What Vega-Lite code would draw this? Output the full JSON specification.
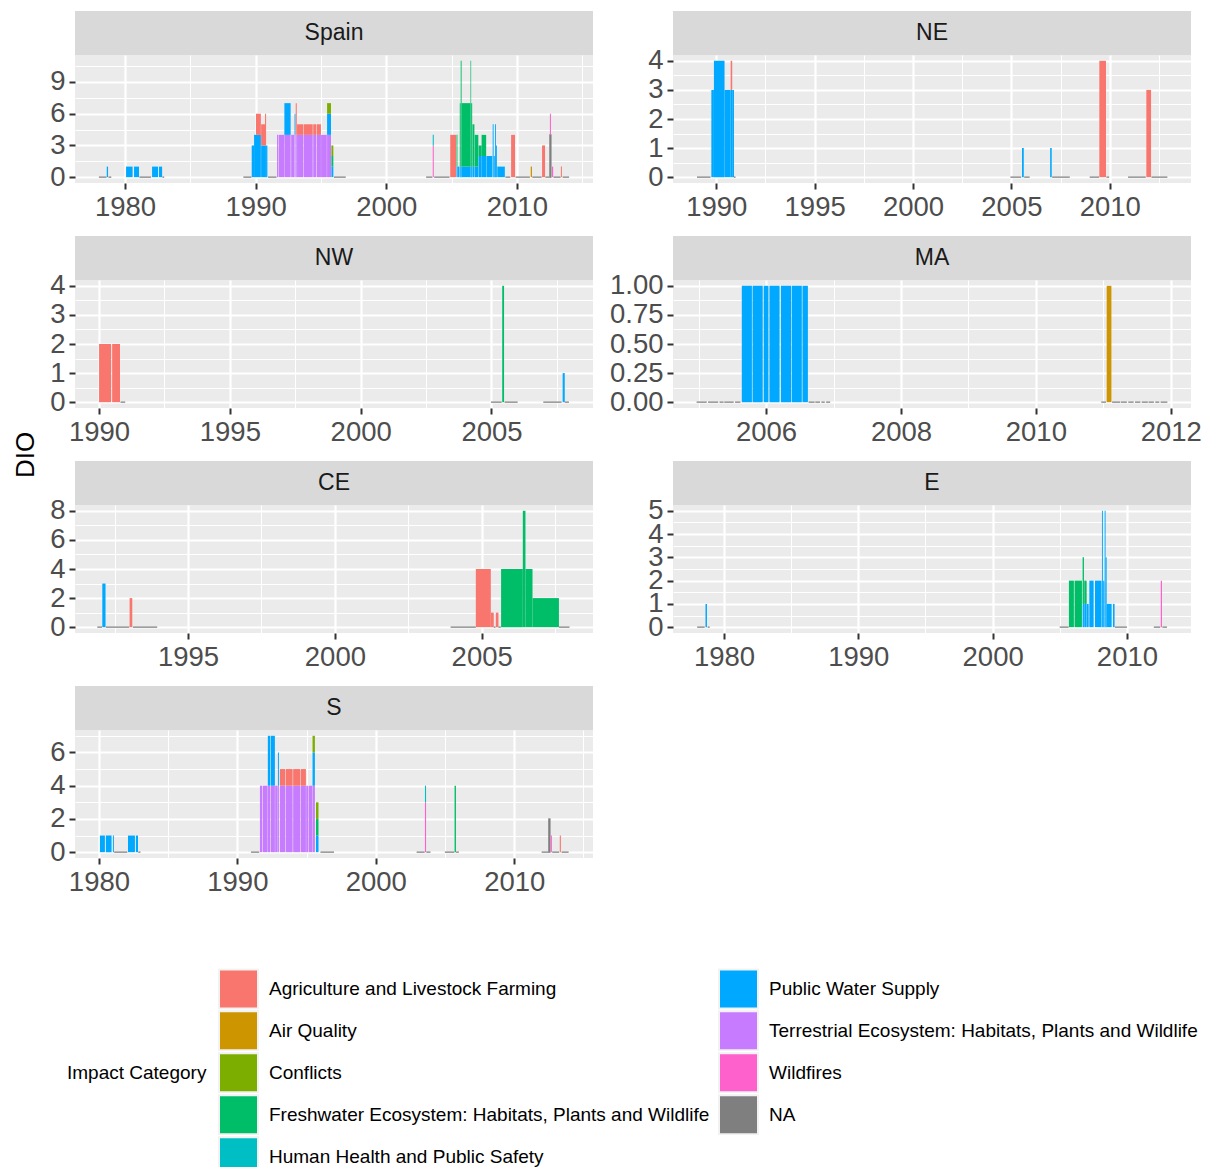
{
  "$schema": "https://vega.github.io/schema/vega-lite/v6.json",
  "padding": {"left": 11, "top": 11, "right": 5, "bottom": 5},
  "background": "white",
  "datasets": {
    "lv": [
      {"c": "A", "name": "Agriculture and Livestock Farming", "k": 1},
      {"c": "Q", "name": "Air Quality", "k": 2},
      {"c": "C", "name": "Conflicts", "k": 3},
      {"c": "F", "name": "Freshwater Ecosystem: Habitats, Plants and Wildlife", "k": 4},
      {"c": "H", "name": "Human Health and Public Safety", "k": 5},
      {"c": "P", "name": "Public Water Supply", "k": 6},
      {"c": "T", "name": "Terrestrial Ecosystem: Habitats, Plants and Wildlife", "k": 7},
      {"c": "W", "name": "Wildfires", "k": 8},
      {"c": "N", "name": "NA", "k": 9}
    ],
    "d": [
      {"r": "Spain", "s": 1978.0, "e": 1978.58, "v": 0, "c": "N"},
      {"r": "Spain", "s": 1978.6, "e": 1978.7, "v": 1, "c": "P"},
      {"r": "Spain", "s": 1978.73, "e": 1978.95, "v": 0, "c": "N"},
      {"r": "Spain", "s": 1980.08, "e": 1980.58, "v": 1, "c": "P"},
      {"r": "Spain", "s": 1980.69, "e": 1981.07, "v": 1, "c": "P"},
      {"r": "Spain", "s": 1981.1, "e": 1982.0, "v": 0, "c": "N"},
      {"r": "Spain", "s": 1982.07, "e": 1982.53, "v": 1, "c": "P"},
      {"r": "Spain", "s": 1982.6, "e": 1982.84, "v": 1, "c": "P"},
      {"r": "Spain", "s": 1982.86, "e": 1983.0, "v": 0, "c": "N"},
      {"r": "Spain", "s": 1989.06, "e": 1989.68, "v": 0, "c": "N"},
      {"r": "Spain", "s": 1989.7, "e": 1989.88, "v": 3, "c": "P"},
      {"r": "Spain", "s": 1989.88, "e": 1990.03, "v": 4, "c": "P"},
      {"r": "Spain", "s": 1990.03, "e": 1990.4, "v": 4, "c": "P"},
      {"r": "Spain", "s": 1990.03, "e": 1990.4, "v": 2, "c": "A"},
      {"r": "Spain", "s": 1990.42, "e": 1990.72, "v": 3, "c": "P"},
      {"r": "Spain", "s": 1990.42, "e": 1990.72, "v": 2, "c": "A"},
      {"r": "Spain", "s": 1990.72, "e": 1990.8, "v": 3, "c": "P"},
      {"r": "Spain", "s": 1990.72, "e": 1990.8, "v": 3, "c": "A"},
      {"r": "Spain", "s": 1990.8, "e": 1990.9, "v": 3, "c": "P"},
      {"r": "Spain", "s": 1990.95, "e": 1991.6, "v": 0, "c": "N"},
      {"r": "Spain", "s": 1991.64, "e": 1991.74, "v": 4, "c": "T"},
      {"r": "Spain", "s": 1991.78, "e": 1992.18, "v": 4, "c": "T"},
      {"r": "Spain", "s": 1992.2, "e": 1992.68, "v": 4, "c": "T"},
      {"r": "Spain", "s": 1992.2, "e": 1992.68, "v": 3, "c": "P"},
      {"r": "Spain", "s": 1992.72, "e": 1992.96, "v": 4, "c": "T"},
      {"r": "Spain", "s": 1992.98, "e": 1993.05, "v": 4, "c": "T"},
      {"r": "Spain", "s": 1992.98, "e": 1993.05, "v": 2, "c": "P"},
      {"r": "Spain", "s": 1993.07, "e": 1993.15, "v": 4, "c": "T"},
      {"r": "Spain", "s": 1993.07, "e": 1993.15, "v": 3, "c": "A"},
      {"r": "Spain", "s": 1993.17, "e": 1993.63, "v": 4, "c": "T"},
      {"r": "Spain", "s": 1993.17, "e": 1993.63, "v": 1, "c": "A"},
      {"r": "Spain", "s": 1993.67, "e": 1994.37, "v": 4, "c": "T"},
      {"r": "Spain", "s": 1993.67, "e": 1994.37, "v": 1, "c": "A"},
      {"r": "Spain", "s": 1994.41, "e": 1994.64, "v": 4, "c": "T"},
      {"r": "Spain", "s": 1994.41, "e": 1994.64, "v": 1, "c": "A"},
      {"r": "Spain", "s": 1994.68, "e": 1995.0, "v": 4, "c": "T"},
      {"r": "Spain", "s": 1994.68, "e": 1995.0, "v": 1, "c": "A"},
      {"r": "Spain", "s": 1995.01, "e": 1995.45, "v": 4, "c": "T"},
      {"r": "Spain", "s": 1995.47, "e": 1995.77, "v": 4, "c": "T"},
      {"r": "Spain", "s": 1995.47, "e": 1995.77, "v": 2, "c": "P"},
      {"r": "Spain", "s": 1995.47, "e": 1995.77, "v": 1, "c": "C"},
      {"r": "Spain", "s": 1995.8, "e": 1995.95, "v": 1, "c": "P"},
      {"r": "Spain", "s": 1995.8, "e": 1995.95, "v": 1, "c": "F"},
      {"r": "Spain", "s": 1995.8, "e": 1995.95, "v": 1, "c": "C"},
      {"r": "Spain", "s": 1996.0, "e": 1996.9, "v": 0, "c": "N"},
      {"r": "Spain", "s": 2003.05, "e": 2003.53, "v": 0, "c": "N"},
      {"r": "Spain", "s": 2003.56, "e": 2003.64, "v": 3, "c": "W"},
      {"r": "Spain", "s": 2003.56, "e": 2003.64, "v": 1, "c": "H"},
      {"r": "Spain", "s": 2003.67, "e": 2004.85, "v": 0, "c": "N"},
      {"r": "Spain", "s": 2004.9, "e": 2005.35, "v": 4, "c": "A"},
      {"r": "Spain", "s": 2005.38, "e": 2005.45, "v": 1, "c": "P"},
      {"r": "Spain", "s": 2005.38, "e": 2005.45, "v": 3, "c": "F"},
      {"r": "Spain", "s": 2005.45, "e": 2005.6, "v": 1, "c": "P"},
      {"r": "Spain", "s": 2005.63, "e": 2005.7, "v": 1, "c": "P"},
      {"r": "Spain", "s": 2005.63, "e": 2005.7, "v": 6, "c": "F"},
      {"r": "Spain", "s": 2005.7, "e": 2005.77, "v": 1, "c": "P"},
      {"r": "Spain", "s": 2005.7, "e": 2005.77, "v": 10, "c": "F"},
      {"r": "Spain", "s": 2005.77, "e": 2006.45, "v": 1, "c": "P"},
      {"r": "Spain", "s": 2005.77, "e": 2006.45, "v": 6, "c": "F"},
      {"r": "Spain", "s": 2006.45, "e": 2006.5, "v": 1, "c": "P"},
      {"r": "Spain", "s": 2006.45, "e": 2006.5, "v": 10, "c": "F"},
      {"r": "Spain", "s": 2006.5, "e": 2006.58, "v": 1, "c": "P"},
      {"r": "Spain", "s": 2006.5, "e": 2006.58, "v": 6, "c": "F"},
      {"r": "Spain", "s": 2006.6, "e": 2006.75, "v": 1, "c": "P"},
      {"r": "Spain", "s": 2006.6, "e": 2006.75, "v": 4, "c": "F"},
      {"r": "Spain", "s": 2006.77, "e": 2007.05, "v": 1, "c": "P"},
      {"r": "Spain", "s": 2006.77, "e": 2007.05, "v": 3, "c": "F"},
      {"r": "Spain", "s": 2007.07, "e": 2007.3, "v": 2, "c": "P"},
      {"r": "Spain", "s": 2007.07, "e": 2007.3, "v": 1, "c": "F"},
      {"r": "Spain", "s": 2007.3, "e": 2007.65, "v": 2, "c": "P"},
      {"r": "Spain", "s": 2007.3, "e": 2007.65, "v": 2, "c": "F"},
      {"r": "Spain", "s": 2007.67, "e": 2008.12, "v": 2, "c": "P"},
      {"r": "Spain", "s": 2008.15, "e": 2008.22, "v": 5, "c": "P"},
      {"r": "Spain", "s": 2008.22, "e": 2008.31, "v": 2, "c": "P"},
      {"r": "Spain", "s": 2008.33, "e": 2008.4, "v": 5, "c": "P"},
      {"r": "Spain", "s": 2008.4, "e": 2008.47, "v": 3, "c": "P"},
      {"r": "Spain", "s": 2008.5, "e": 2009.08, "v": 1, "c": "P"},
      {"r": "Spain", "s": 2009.12, "e": 2009.5, "v": 0, "c": "N"},
      {"r": "Spain", "s": 2009.56, "e": 2009.86, "v": 4, "c": "A"},
      {"r": "Spain", "s": 2009.9, "e": 2011.0, "v": 0, "c": "N"},
      {"r": "Spain", "s": 2011.06, "e": 2011.16, "v": 1, "c": "Q"},
      {"r": "Spain", "s": 2011.18, "e": 2011.9, "v": 0, "c": "N"},
      {"r": "Spain", "s": 2011.93, "e": 2012.16, "v": 3, "c": "A"},
      {"r": "Spain", "s": 2012.18, "e": 2012.5, "v": 0, "c": "N"},
      {"r": "Spain", "s": 2012.53, "e": 2012.61, "v": 4, "c": "N"},
      {"r": "Spain", "s": 2012.53, "e": 2012.61, "v": 2, "c": "W"},
      {"r": "Spain", "s": 2012.69, "e": 2012.78, "v": 1, "c": "W"},
      {"r": "Spain", "s": 2012.8, "e": 2013.35, "v": 0, "c": "N"},
      {"r": "Spain", "s": 2013.37, "e": 2013.45, "v": 1, "c": "A"},
      {"r": "Spain", "s": 2013.5, "e": 2014.0, "v": 0, "c": "N"},

      {"r": "NE", "s": 1989.02, "e": 1989.71, "v": 0, "c": "N"},
      {"r": "NE", "s": 1989.75, "e": 1989.88, "v": 3, "c": "P"},
      {"r": "NE", "s": 1989.88, "e": 1990.42, "v": 4, "c": "P"},
      {"r": "NE", "s": 1990.42, "e": 1990.73, "v": 3, "c": "P"},
      {"r": "NE", "s": 1990.73, "e": 1990.81, "v": 3, "c": "P"},
      {"r": "NE", "s": 1990.73, "e": 1990.81, "v": 1, "c": "A"},
      {"r": "NE", "s": 1990.81, "e": 1990.9, "v": 3, "c": "P"},
      {"r": "NE", "s": 1990.9, "e": 1990.98, "v": 0, "c": "N"},
      {"r": "NE", "s": 2004.95, "e": 2005.5, "v": 0, "c": "N"},
      {"r": "NE", "s": 2005.54, "e": 2005.63, "v": 1, "c": "P"},
      {"r": "NE", "s": 2005.65, "e": 2005.93, "v": 0, "c": "N"},
      {"r": "NE", "s": 2006.97, "e": 2007.05, "v": 1, "c": "P"},
      {"r": "NE", "s": 2007.07, "e": 2007.97, "v": 0, "c": "N"},
      {"r": "NE", "s": 2008.98, "e": 2009.46, "v": 0, "c": "N"},
      {"r": "NE", "s": 2009.47, "e": 2009.81, "v": 4, "c": "A"},
      {"r": "NE", "s": 2009.83, "e": 2009.97, "v": 0, "c": "N"},
      {"r": "NE", "s": 2010.93, "e": 2011.83, "v": 0, "c": "N"},
      {"r": "NE", "s": 2011.86, "e": 2012.1, "v": 3, "c": "A"},
      {"r": "NE", "s": 2012.12, "e": 2012.93, "v": 0, "c": "N"},

      {"r": "NW", "s": 1990.0, "e": 1990.46, "v": 2, "c": "A"},
      {"r": "NW", "s": 1990.5, "e": 1990.8, "v": 2, "c": "A"},
      {"r": "NW", "s": 1990.82, "e": 1991.0, "v": 0, "c": "N"},
      {"r": "NW", "s": 2004.98, "e": 2005.39, "v": 0, "c": "N"},
      {"r": "NW", "s": 2005.41, "e": 2005.48, "v": 4, "c": "F"},
      {"r": "NW", "s": 2005.5, "e": 2006.0, "v": 0, "c": "N"},
      {"r": "NW", "s": 2006.98, "e": 2007.68, "v": 0, "c": "N"},
      {"r": "NW", "s": 2007.72, "e": 2007.8, "v": 1, "c": "P"},
      {"r": "NW", "s": 2007.8, "e": 2007.96, "v": 0, "c": "N"},

      {"r": "MA", "s": 2004.97, "e": 2005.12, "v": 0, "c": "N"},
      {"r": "MA", "s": 2005.14, "e": 2005.29, "v": 0, "c": "N"},
      {"r": "MA", "s": 2005.31, "e": 2005.37, "v": 0, "c": "N"},
      {"r": "MA", "s": 2005.38, "e": 2005.52, "v": 0, "c": "N"},
      {"r": "MA", "s": 2005.54, "e": 2005.62, "v": 0, "c": "N"},
      {"r": "MA", "s": 2005.64, "e": 2005.79, "v": 1, "c": "P"},
      {"r": "MA", "s": 2005.8, "e": 2005.95, "v": 1, "c": "P"},
      {"r": "MA", "s": 2005.965, "e": 2006.035, "v": 1, "c": "P"},
      {"r": "MA", "s": 2006.05, "e": 2006.2, "v": 1, "c": "P"},
      {"r": "MA", "s": 2006.22, "e": 2006.37, "v": 1, "c": "P"},
      {"r": "MA", "s": 2006.38, "e": 2006.53, "v": 1, "c": "P"},
      {"r": "MA", "s": 2006.54, "e": 2006.62, "v": 1, "c": "P"},
      {"r": "MA", "s": 2006.63, "e": 2006.72, "v": 0, "c": "N"},
      {"r": "MA", "s": 2006.73, "e": 2006.8, "v": 0, "c": "N"},
      {"r": "MA", "s": 2006.82, "e": 2006.87, "v": 0, "c": "N"},
      {"r": "MA", "s": 2006.89, "e": 2006.95, "v": 0, "c": "N"},
      {"r": "MA", "s": 2010.97, "e": 2011.04, "v": 0, "c": "N"},
      {"r": "MA", "s": 2011.05, "e": 2011.12, "v": 1, "c": "Q"},
      {"r": "MA", "s": 2011.13, "e": 2011.25, "v": 0, "c": "N"},
      {"r": "MA", "s": 2011.26, "e": 2011.35, "v": 0, "c": "N"},
      {"r": "MA", "s": 2011.37, "e": 2011.45, "v": 0, "c": "N"},
      {"r": "MA", "s": 2011.47, "e": 2011.55, "v": 0, "c": "N"},
      {"r": "MA", "s": 2011.57, "e": 2011.66, "v": 0, "c": "N"},
      {"r": "MA", "s": 2011.67, "e": 2011.75, "v": 0, "c": "N"},
      {"r": "MA", "s": 2011.77, "e": 2011.83, "v": 0, "c": "N"},
      {"r": "MA", "s": 2011.85, "e": 2011.95, "v": 0, "c": "N"},

      {"r": "CE", "s": 1991.91, "e": 1992.07, "v": 0, "c": "N"},
      {"r": "CE", "s": 1992.08, "e": 1992.19, "v": 3, "c": "P"},
      {"r": "CE", "s": 1992.2, "e": 1993.0, "v": 0, "c": "N"},
      {"r": "CE", "s": 1993.01, "e": 1993.1, "v": 2, "c": "A"},
      {"r": "CE", "s": 1993.12, "e": 1993.95, "v": 0, "c": "N"},
      {"r": "CE", "s": 2003.94, "e": 2004.8, "v": 0, "c": "N"},
      {"r": "CE", "s": 2004.8, "e": 2005.31, "v": 4, "c": "A"},
      {"r": "CE", "s": 2005.31, "e": 2005.41, "v": 1, "c": "A"},
      {"r": "CE", "s": 2005.41, "e": 2005.47, "v": 0, "c": "N"},
      {"r": "CE", "s": 2005.48, "e": 2005.57, "v": 1, "c": "A"},
      {"r": "CE", "s": 2005.57, "e": 2005.65, "v": 0, "c": "N"},
      {"r": "CE", "s": 2005.66, "e": 2006.4, "v": 4, "c": "F"},
      {"r": "CE", "s": 2006.4, "e": 2006.49, "v": 8, "c": "F"},
      {"r": "CE", "s": 2006.49, "e": 2006.73, "v": 4, "c": "F"},
      {"r": "CE", "s": 2006.73, "e": 2007.63, "v": 2, "c": "F"},
      {"r": "CE", "s": 2007.63, "e": 2007.99, "v": 0, "c": "N"},

      {"r": "E", "s": 1978.0, "e": 1978.56, "v": 0, "c": "N"},
      {"r": "E", "s": 1978.62, "e": 1978.73, "v": 1, "c": "P"},
      {"r": "E", "s": 1978.78, "e": 1978.93, "v": 0, "c": "N"},
      {"r": "E", "s": 2004.99, "e": 2005.66, "v": 0, "c": "N"},
      {"r": "E", "s": 2005.68, "e": 2006.05, "v": 2, "c": "F"},
      {"r": "E", "s": 2006.1, "e": 2006.65, "v": 2, "c": "F"},
      {"r": "E", "s": 2006.7, "e": 2006.8, "v": 1, "c": "P"},
      {"r": "E", "s": 2006.7, "e": 2006.8, "v": 2, "c": "F"},
      {"r": "E", "s": 2006.82, "e": 2007.0, "v": 1, "c": "P"},
      {"r": "E", "s": 2006.82, "e": 2007.0, "v": 1, "c": "F"},
      {"r": "E", "s": 2007.02, "e": 2007.15, "v": 1, "c": "P"},
      {"r": "E", "s": 2007.2, "e": 2007.52, "v": 2, "c": "P"},
      {"r": "E", "s": 2007.62, "e": 2008.11, "v": 2, "c": "P"},
      {"r": "E", "s": 2008.14, "e": 2008.21, "v": 5, "c": "P"},
      {"r": "E", "s": 2008.23, "e": 2008.32, "v": 2, "c": "P"},
      {"r": "E", "s": 2008.34, "e": 2008.41, "v": 5, "c": "P"},
      {"r": "E", "s": 2008.41, "e": 2008.49, "v": 3, "c": "P"},
      {"r": "E", "s": 2008.49, "e": 2008.86, "v": 1, "c": "P"},
      {"r": "E", "s": 2008.96, "e": 2009.08, "v": 1, "c": "P"},
      {"r": "E", "s": 2009.1, "e": 2010.0, "v": 0, "c": "N"},
      {"r": "E", "s": 2012.0, "e": 2012.48, "v": 0, "c": "N"},
      {"r": "E", "s": 2012.52, "e": 2012.61, "v": 2, "c": "W"},
      {"r": "E", "s": 2012.64, "e": 2012.98, "v": 0, "c": "N"},

      {"r": "S", "s": 1980.07, "e": 1980.43, "v": 1, "c": "P"},
      {"r": "S", "s": 1980.5, "e": 1980.91, "v": 1, "c": "P"},
      {"r": "S", "s": 1981.01, "e": 1981.08, "v": 1, "c": "P"},
      {"r": "S", "s": 1981.1, "e": 1982.05, "v": 0, "c": "N"},
      {"r": "S", "s": 1982.1, "e": 1982.6, "v": 1, "c": "P"},
      {"r": "S", "s": 1982.67, "e": 1982.82, "v": 1, "c": "P"},
      {"r": "S", "s": 1982.84, "e": 1983.0, "v": 0, "c": "N"},
      {"r": "S", "s": 1990.98, "e": 1991.58, "v": 0, "c": "N"},
      {"r": "S", "s": 1991.63, "e": 1991.8, "v": 4, "c": "T"},
      {"r": "S", "s": 1991.84, "e": 1992.18, "v": 4, "c": "T"},
      {"r": "S", "s": 1992.2, "e": 1992.38, "v": 4, "c": "T"},
      {"r": "S", "s": 1992.2, "e": 1992.38, "v": 3, "c": "P"},
      {"r": "S", "s": 1992.42, "e": 1992.71, "v": 4, "c": "T"},
      {"r": "S", "s": 1992.42, "e": 1992.71, "v": 3, "c": "P"},
      {"r": "S", "s": 1992.73, "e": 1992.91, "v": 4, "c": "T"},
      {"r": "S", "s": 1992.93, "e": 1993.0, "v": 4, "c": "T"},
      {"r": "S", "s": 1992.93, "e": 1993.0, "v": 2, "c": "P"},
      {"r": "S", "s": 1993.07, "e": 1993.46, "v": 4, "c": "T"},
      {"r": "S", "s": 1993.07, "e": 1993.46, "v": 1, "c": "A"},
      {"r": "S", "s": 1993.5, "e": 1993.99, "v": 4, "c": "T"},
      {"r": "S", "s": 1993.5, "e": 1993.99, "v": 1, "c": "A"},
      {"r": "S", "s": 1994.03, "e": 1994.55, "v": 4, "c": "T"},
      {"r": "S", "s": 1994.03, "e": 1994.55, "v": 1, "c": "A"},
      {"r": "S", "s": 1994.59, "e": 1994.95, "v": 4, "c": "T"},
      {"r": "S", "s": 1994.59, "e": 1994.95, "v": 1, "c": "A"},
      {"r": "S", "s": 1994.97, "e": 1995.1, "v": 4, "c": "T"},
      {"r": "S", "s": 1995.14, "e": 1995.41, "v": 4, "c": "T"},
      {"r": "S", "s": 1995.43, "e": 1995.6, "v": 4, "c": "T"},
      {"r": "S", "s": 1995.43, "e": 1995.6, "v": 2, "c": "P"},
      {"r": "S", "s": 1995.43, "e": 1995.6, "v": 1, "c": "C"},
      {"r": "S", "s": 1995.68, "e": 1995.86, "v": 1, "c": "P"},
      {"r": "S", "s": 1995.68, "e": 1995.86, "v": 1, "c": "F"},
      {"r": "S", "s": 1995.68, "e": 1995.86, "v": 1, "c": "C"},
      {"r": "S", "s": 1996.0, "e": 1996.98, "v": 0, "c": "N"},
      {"r": "S", "s": 2002.95, "e": 2003.53, "v": 0, "c": "N"},
      {"r": "S", "s": 2003.55, "e": 2003.63, "v": 3, "c": "W"},
      {"r": "S", "s": 2003.55, "e": 2003.63, "v": 1, "c": "H"},
      {"r": "S", "s": 2003.65, "e": 2003.95, "v": 0, "c": "N"},
      {"r": "S", "s": 2004.99, "e": 2005.67, "v": 0, "c": "N"},
      {"r": "S", "s": 2005.69, "e": 2005.79, "v": 4, "c": "F"},
      {"r": "S", "s": 2005.8, "e": 2006.0, "v": 0, "c": "N"},
      {"r": "S", "s": 2011.98, "e": 2012.48, "v": 0, "c": "N"},
      {"r": "S", "s": 2012.5, "e": 2012.58, "v": 2, "c": "N"},
      {"r": "S", "s": 2012.64, "e": 2012.72, "v": 1, "c": "W"},
      {"r": "S", "s": 2012.74, "e": 2013.25, "v": 0, "c": "N"},
      {"r": "S", "s": 2013.29, "e": 2013.37, "v": 1, "c": "A"},
      {"r": "S", "s": 2013.42, "e": 2013.93, "v": 0, "c": "N"}
    ]
  },
  "hconcat": [
    {
      "width": 29,
      "height": 888,
      "data": {"values": [{"t": "DIO"}]},
      "mark": {"type": "text", "angle": 270, "fontSize": 26, "color": "#000000", "font": "Liberation Sans"},
      "encoding": {"text": {"field": "t", "type": "nominal"}}
    },
    {
      "columns": 2,
      "align": "each",
      "spacing": {"row": 15, "column": 16},
      "resolve": {"scale": {"x": "independent", "y": "independent", "color": "shared"}},
      "concat": [
        {
          "spacing": 0, "bounds": "flush",
          "resolve": {"scale": {"x": "independent", "y": "independent", "color": "shared"}},
          "vconcat": [
            {"width": 518, "height": 44, "view": {"fill": "#d9d9d9", "stroke": null},
             "data": {"values": [{"t": "Spain"}]},
             "mark": {"type": "text", "fontSize": 23, "color": "#1a1a1a", "font": "Liberation Sans"},
             "encoding": {"text": {"field": "t", "type": "nominal"}}},
            {"width": 518, "height": 128, "view": {"fill": "#ebebeb", "stroke": null},
             "data": {"name": "d"},
             "transform": [{"filter": "datum.r === 'Spain'"}, {"lookup": "c", "from": {"data": {"name": "lv"}, "key": "c", "fields": ["name", "k"]}},
                           {"stack": "v", "groupby": ["s"], "sort": [{"field": "k", "order": "descending"}], "as": ["v0", "v1"]}],
             "mark": {"type": "bar", "strokeWidth": 1.2},
             "encoding": {
               "x": {"field": "s", "type": "quantitative", "scale": {"domain": [1976.17, 2015.83], "nice": false, "zero": false},
                     "axis": {"title": null, "values": [1980, 1985, 1990, 1995, 2000, 2005, 2010, 2015], "labelExpr": "datum.value % 10 === 0 ? '' + datum.value : ''",
                              "gridWidth": {"condition": {"test": "datum.value % 10 === 0", "value": 2.2}, "value": 1.1},
                              "tickOpacity": {"condition": {"test": "datum.value % 10 === 0", "value": 1}, "value": 0}}},
               "x2": {"field": "e"},
               "y": {"field": "v1", "type": "quantitative", "scale": {"domain": [-0.55, 11.55], "nice": false, "zero": false},
                     "axis": {"title": null, "values": [0, 1.5, 3, 4.5, 6, 7.5, 9, 10.5], "labelExpr": "datum.value % 3 === 0 ? '' + datum.value : ''",
                              "gridWidth": {"condition": {"test": "datum.value % 3 === 0", "value": 2.2}, "value": 1.1},
                              "tickOpacity": {"condition": {"test": "datum.value % 3 === 0", "value": 1}, "value": 0}}},
               "y2": {"field": "v0"},
               "color": {"field": "name", "type": "nominal",
                         "scale": {"domain": ["Agriculture and Livestock Farming", "Air Quality", "Conflicts", "Freshwater Ecosystem: Habitats, Plants and Wildlife", "Human Health and Public Safety", "Public Water Supply", "Terrestrial Ecosystem: Habitats, Plants and Wildlife", "Wildfires", "NA"],
                                   "range": ["#F8766D", "#CD9600", "#7CAE00", "#00BE67", "#00BFC4", "#00A9FF", "#C77CFF", "#FF61CC", "#7F7F7F"]},
                         "legend": {"title": "Impact Category", "orient": "none", "legendX": 56, "legendY": 957, "columns": 2, "titleOrient": "left", "titleAnchor": "middle", "titleBaseline": "middle", "titlePadding": 11,
                                    "symbolType": "square", "symbolSize": 1521, "symbolStrokeColor": "#f2f2f2", "symbolStrokeWidth": 2,
                                    "labelFontSize": 19, "titleFontSize": 19, "titleFontWeight": "normal", "labelColor": "#000000", "titleColor": "#000000",
                                    "labelOffset": 10, "rowPadding": 0, "clipHeight": 41.3, "columnPadding": 8, "labelLimit": 0, "padding": 0}},
               "stroke": {"condition": {"test": "datum.name === 'NA'", "value": "#7f7f7f"}, "value": "transparent"}
             }}
          ]
        },
        {
          "spacing": 0, "bounds": "flush",
          "resolve": {"scale": {"x": "independent", "y": "independent", "color": "shared"}},
          "vconcat": [
            {"width": 518, "height": 44, "view": {"fill": "#d9d9d9", "stroke": null},
             "data": {"values": [{"t": "NE"}]},
             "mark": {"type": "text", "fontSize": 23, "color": "#1a1a1a", "font": "Liberation Sans"},
             "encoding": {"text": {"field": "t", "type": "nominal"}}},
            {"width": 518, "height": 128, "view": {"fill": "#ebebeb", "stroke": null},
             "data": {"name": "d"},
             "transform": [{"filter": "datum.r === 'NE'"}, {"lookup": "c", "from": {"data": {"name": "lv"}, "key": "c", "fields": ["name", "k"]}},
                           {"stack": "v", "groupby": ["s"], "sort": [{"field": "k", "order": "descending"}], "as": ["v0", "v1"]}],
             "mark": {"type": "bar", "strokeWidth": 1.2},
             "encoding": {
               "x": {"field": "s", "type": "quantitative", "scale": {"domain": [1987.8, 2014.13], "nice": false, "zero": false},
                     "axis": {"title": null, "values": [1990, 1992.5, 1995, 1997.5, 2000, 2002.5, 2005, 2007.5, 2010, 2012.5], "labelExpr": "datum.value % 5 === 0 ? '' + datum.value : ''",
                              "gridWidth": {"condition": {"test": "datum.value % 5 === 0", "value": 2.2}, "value": 1.1},
                              "tickOpacity": {"condition": {"test": "datum.value % 5 === 0", "value": 1}, "value": 0}}},
               "x2": {"field": "e"},
               "y": {"field": "v1", "type": "quantitative", "scale": {"domain": [-0.2, 4.2], "nice": false, "zero": false},
                     "axis": {"title": null, "values": [0, 0.5, 1, 1.5, 2, 2.5, 3, 3.5, 4], "labelExpr": "datum.value % 1 === 0 ? '' + datum.value : ''",
                              "gridWidth": {"condition": {"test": "datum.value % 1 === 0", "value": 2.2}, "value": 1.1},
                              "tickOpacity": {"condition": {"test": "datum.value % 1 === 0", "value": 1}, "value": 0}}},
               "y2": {"field": "v0"},
               "color": {"field": "name", "type": "nominal",
                         "scale": {"domain": ["Agriculture and Livestock Farming", "Air Quality", "Conflicts", "Freshwater Ecosystem: Habitats, Plants and Wildlife", "Human Health and Public Safety", "Public Water Supply", "Terrestrial Ecosystem: Habitats, Plants and Wildlife", "Wildfires", "NA"],
                                   "range": ["#F8766D", "#CD9600", "#7CAE00", "#00BE67", "#00BFC4", "#00A9FF", "#C77CFF", "#FF61CC", "#7F7F7F"]},
                         "legend": {"title": "Impact Category", "orient": "none", "legendX": 56, "legendY": 957, "columns": 2, "titleOrient": "left", "titleAnchor": "middle", "titleBaseline": "middle", "titlePadding": 11,
                                    "symbolType": "square", "symbolSize": 1521, "symbolStrokeColor": "#f2f2f2", "symbolStrokeWidth": 2,
                                    "labelFontSize": 19, "titleFontSize": 19, "titleFontWeight": "normal", "labelColor": "#000000", "titleColor": "#000000",
                                    "labelOffset": 10, "rowPadding": 0, "clipHeight": 41.3, "columnPadding": 8, "labelLimit": 0, "padding": 0}},
               "stroke": {"condition": {"test": "datum.name === 'NA'", "value": "#7f7f7f"}, "value": "transparent"}
             }}
          ]
        },
        {
          "spacing": 0, "bounds": "flush",
          "resolve": {"scale": {"x": "independent", "y": "independent", "color": "shared"}},
          "vconcat": [
            {"width": 518, "height": 44, "view": {"fill": "#d9d9d9", "stroke": null},
             "data": {"values": [{"t": "NW"}]},
             "mark": {"type": "text", "fontSize": 23, "color": "#1a1a1a", "font": "Liberation Sans"},
             "encoding": {"text": {"field": "t", "type": "nominal"}}},
            {"width": 518, "height": 128, "view": {"fill": "#ebebeb", "stroke": null},
             "data": {"name": "d"},
             "transform": [{"filter": "datum.r === 'NW'"}, {"lookup": "c", "from": {"data": {"name": "lv"}, "key": "c", "fields": ["name", "k"]}},
                           {"stack": "v", "groupby": ["s"], "sort": [{"field": "k", "order": "descending"}], "as": ["v0", "v1"]}],
             "mark": {"type": "bar", "strokeWidth": 1.2},
             "encoding": {
               "x": {"field": "s", "type": "quantitative", "scale": {"domain": [1989.08, 2008.88], "nice": false, "zero": false},
                     "axis": {"title": null, "values": [1990, 1992.5, 1995, 1997.5, 2000, 2002.5, 2005, 2007.5], "labelExpr": "datum.value % 5 === 0 ? '' + datum.value : ''",
                              "gridWidth": {"condition": {"test": "datum.value % 5 === 0", "value": 2.2}, "value": 1.1},
                              "tickOpacity": {"condition": {"test": "datum.value % 5 === 0", "value": 1}, "value": 0}}},
               "x2": {"field": "e"},
               "y": {"field": "v1", "type": "quantitative", "scale": {"domain": [-0.2, 4.2], "nice": false, "zero": false},
                     "axis": {"title": null, "values": [0, 0.5, 1, 1.5, 2, 2.5, 3, 3.5, 4], "labelExpr": "datum.value % 1 === 0 ? '' + datum.value : ''",
                              "gridWidth": {"condition": {"test": "datum.value % 1 === 0", "value": 2.2}, "value": 1.1},
                              "tickOpacity": {"condition": {"test": "datum.value % 1 === 0", "value": 1}, "value": 0}}},
               "y2": {"field": "v0"},
               "color": {"field": "name", "type": "nominal",
                         "scale": {"domain": ["Agriculture and Livestock Farming", "Air Quality", "Conflicts", "Freshwater Ecosystem: Habitats, Plants and Wildlife", "Human Health and Public Safety", "Public Water Supply", "Terrestrial Ecosystem: Habitats, Plants and Wildlife", "Wildfires", "NA"],
                                   "range": ["#F8766D", "#CD9600", "#7CAE00", "#00BE67", "#00BFC4", "#00A9FF", "#C77CFF", "#FF61CC", "#7F7F7F"]},
                         "legend": {"title": "Impact Category", "orient": "none", "legendX": 56, "legendY": 957, "columns": 2, "titleOrient": "left", "titleAnchor": "middle", "titleBaseline": "middle", "titlePadding": 11,
                                    "symbolType": "square", "symbolSize": 1521, "symbolStrokeColor": "#f2f2f2", "symbolStrokeWidth": 2,
                                    "labelFontSize": 19, "titleFontSize": 19, "titleFontWeight": "normal", "labelColor": "#000000", "titleColor": "#000000",
                                    "labelOffset": 10, "rowPadding": 0, "clipHeight": 41.3, "columnPadding": 8, "labelLimit": 0, "padding": 0}},
               "stroke": {"condition": {"test": "datum.name === 'NA'", "value": "#7f7f7f"}, "value": "transparent"}
             }}
          ]
        },
        {
          "spacing": 0, "bounds": "flush",
          "resolve": {"scale": {"x": "independent", "y": "independent", "color": "shared"}},
          "vconcat": [
            {"width": 518, "height": 44, "view": {"fill": "#d9d9d9", "stroke": null},
             "data": {"values": [{"t": "MA"}]},
             "mark": {"type": "text", "fontSize": 23, "color": "#1a1a1a", "font": "Liberation Sans"},
             "encoding": {"text": {"field": "t", "type": "nominal"}}},
            {"width": 518, "height": 128, "view": {"fill": "#ebebeb", "stroke": null},
             "data": {"name": "d"},
             "transform": [{"filter": "datum.r === 'MA'"}, {"lookup": "c", "from": {"data": {"name": "lv"}, "key": "c", "fields": ["name", "k"]}},
                           {"stack": "v", "groupby": ["s"], "sort": [{"field": "k", "order": "descending"}], "as": ["v0", "v1"]}],
             "mark": {"type": "bar", "strokeWidth": 1.2},
             "encoding": {
               "x": {"field": "s", "type": "quantitative", "scale": {"domain": [2004.62, 2012.3], "nice": false, "zero": false},
                     "axis": {"title": null, "values": [2005, 2006, 2007, 2008, 2009, 2010, 2011, 2012], "labelExpr": "datum.value % 2 === 0 ? '' + datum.value : ''",
                              "gridWidth": {"condition": {"test": "datum.value % 2 === 0", "value": 2.2}, "value": 1.1},
                              "tickOpacity": {"condition": {"test": "datum.value % 2 === 0", "value": 1}, "value": 0}}},
               "x2": {"field": "e"},
               "y": {"field": "v1", "type": "quantitative", "scale": {"domain": [-0.05, 1.05], "nice": false, "zero": false},
                     "axis": {"title": null, "values": [0, 0.125, 0.25, 0.375, 0.5, 0.625, 0.75, 0.875, 1], "labelExpr": "(datum.value * 4) % 1 === 0 ? format(datum.value, '.2f') : ''",
                              "gridWidth": {"condition": {"test": "(datum.value * 4) % 1 === 0", "value": 2.2}, "value": 1.1},
                              "tickOpacity": {"condition": {"test": "(datum.value * 4) % 1 === 0", "value": 1}, "value": 0}}},
               "y2": {"field": "v0"},
               "color": {"field": "name", "type": "nominal",
                         "scale": {"domain": ["Agriculture and Livestock Farming", "Air Quality", "Conflicts", "Freshwater Ecosystem: Habitats, Plants and Wildlife", "Human Health and Public Safety", "Public Water Supply", "Terrestrial Ecosystem: Habitats, Plants and Wildlife", "Wildfires", "NA"],
                                   "range": ["#F8766D", "#CD9600", "#7CAE00", "#00BE67", "#00BFC4", "#00A9FF", "#C77CFF", "#FF61CC", "#7F7F7F"]},
                         "legend": {"title": "Impact Category", "orient": "none", "legendX": 56, "legendY": 957, "columns": 2, "titleOrient": "left", "titleAnchor": "middle", "titleBaseline": "middle", "titlePadding": 11,
                                    "symbolType": "square", "symbolSize": 1521, "symbolStrokeColor": "#f2f2f2", "symbolStrokeWidth": 2,
                                    "labelFontSize": 19, "titleFontSize": 19, "titleFontWeight": "normal", "labelColor": "#000000", "titleColor": "#000000",
                                    "labelOffset": 10, "rowPadding": 0, "clipHeight": 41.3, "columnPadding": 8, "labelLimit": 0, "padding": 0}},
               "stroke": {"condition": {"test": "datum.name === 'NA'", "value": "#7f7f7f"}, "value": "transparent"}
             }}
          ]
        },
        {
          "spacing": 0, "bounds": "flush",
          "resolve": {"scale": {"x": "independent", "y": "independent", "color": "shared"}},
          "vconcat": [
            {"width": 518, "height": 44, "view": {"fill": "#d9d9d9", "stroke": null},
             "data": {"values": [{"t": "CE"}]},
             "mark": {"type": "text", "fontSize": 23, "color": "#1a1a1a", "font": "Liberation Sans"},
             "encoding": {"text": {"field": "t", "type": "nominal"}}},
            {"width": 518, "height": 128, "view": {"fill": "#ebebeb", "stroke": null},
             "data": {"name": "d"},
             "transform": [{"filter": "datum.r === 'CE'"}, {"lookup": "c", "from": {"data": {"name": "lv"}, "key": "c", "fields": ["name", "k"]}},
                           {"stack": "v", "groupby": ["s"], "sort": [{"field": "k", "order": "descending"}], "as": ["v0", "v1"]}],
             "mark": {"type": "bar", "strokeWidth": 1.2},
             "encoding": {
               "x": {"field": "s", "type": "quantitative", "scale": {"domain": [1991.15, 2008.79], "nice": false, "zero": false},
                     "axis": {"title": null, "values": [1992.5, 1995, 1997.5, 2000, 2002.5, 2005, 2007.5], "labelExpr": "datum.value % 5 === 0 ? '' + datum.value : ''",
                              "gridWidth": {"condition": {"test": "datum.value % 5 === 0", "value": 2.2}, "value": 1.1},
                              "tickOpacity": {"condition": {"test": "datum.value % 5 === 0", "value": 1}, "value": 0}}},
               "x2": {"field": "e"},
               "y": {"field": "v1", "type": "quantitative", "scale": {"domain": [-0.4, 8.4], "nice": false, "zero": false},
                     "axis": {"title": null, "values": [0, 1, 2, 3, 4, 5, 6, 7, 8], "labelExpr": "datum.value % 2 === 0 ? '' + datum.value : ''",
                              "gridWidth": {"condition": {"test": "datum.value % 2 === 0", "value": 2.2}, "value": 1.1},
                              "tickOpacity": {"condition": {"test": "datum.value % 2 === 0", "value": 1}, "value": 0}}},
               "y2": {"field": "v0"},
               "color": {"field": "name", "type": "nominal",
                         "scale": {"domain": ["Agriculture and Livestock Farming", "Air Quality", "Conflicts", "Freshwater Ecosystem: Habitats, Plants and Wildlife", "Human Health and Public Safety", "Public Water Supply", "Terrestrial Ecosystem: Habitats, Plants and Wildlife", "Wildfires", "NA"],
                                   "range": ["#F8766D", "#CD9600", "#7CAE00", "#00BE67", "#00BFC4", "#00A9FF", "#C77CFF", "#FF61CC", "#7F7F7F"]},
                         "legend": {"title": "Impact Category", "orient": "none", "legendX": 56, "legendY": 957, "columns": 2, "titleOrient": "left", "titleAnchor": "middle", "titleBaseline": "middle", "titlePadding": 11,
                                    "symbolType": "square", "symbolSize": 1521, "symbolStrokeColor": "#f2f2f2", "symbolStrokeWidth": 2,
                                    "labelFontSize": 19, "titleFontSize": 19, "titleFontWeight": "normal", "labelColor": "#000000", "titleColor": "#000000",
                                    "labelOffset": 10, "rowPadding": 0, "clipHeight": 41.3, "columnPadding": 8, "labelLimit": 0, "padding": 0}},
               "stroke": {"condition": {"test": "datum.name === 'NA'", "value": "#7f7f7f"}, "value": "transparent"}
             }}
          ]
        },
        {
          "spacing": 0, "bounds": "flush",
          "resolve": {"scale": {"x": "independent", "y": "independent", "color": "shared"}},
          "vconcat": [
            {"width": 518, "height": 44, "view": {"fill": "#d9d9d9", "stroke": null},
             "data": {"values": [{"t": "E"}]},
             "mark": {"type": "text", "fontSize": 23, "color": "#1a1a1a", "font": "Liberation Sans"},
             "encoding": {"text": {"field": "t", "type": "nominal"}}},
            {"width": 518, "height": 128, "view": {"fill": "#ebebeb", "stroke": null},
             "data": {"name": "d"},
             "transform": [{"filter": "datum.r === 'E'"}, {"lookup": "c", "from": {"data": {"name": "lv"}, "key": "c", "fields": ["name", "k"]}},
                           {"stack": "v", "groupby": ["s"], "sort": [{"field": "k", "order": "descending"}], "as": ["v0", "v1"]}],
             "mark": {"type": "bar", "strokeWidth": 1.2},
             "encoding": {
               "x": {"field": "s", "type": "quantitative", "scale": {"domain": [1976.2, 2014.77], "nice": false, "zero": false},
                     "axis": {"title": null, "values": [1980, 1985, 1990, 1995, 2000, 2005, 2010], "labelExpr": "datum.value % 10 === 0 ? '' + datum.value : ''",
                              "gridWidth": {"condition": {"test": "datum.value % 10 === 0", "value": 2.2}, "value": 1.1},
                              "tickOpacity": {"condition": {"test": "datum.value % 10 === 0", "value": 1}, "value": 0}}},
               "x2": {"field": "e"},
               "y": {"field": "v1", "type": "quantitative", "scale": {"domain": [-0.25, 5.25], "nice": false, "zero": false},
                     "axis": {"title": null, "values": [0, 0.5, 1, 1.5, 2, 2.5, 3, 3.5, 4, 4.5, 5], "labelExpr": "datum.value % 1 === 0 ? '' + datum.value : ''",
                              "gridWidth": {"condition": {"test": "datum.value % 1 === 0", "value": 2.2}, "value": 1.1},
                              "tickOpacity": {"condition": {"test": "datum.value % 1 === 0", "value": 1}, "value": 0}}},
               "y2": {"field": "v0"},
               "color": {"field": "name", "type": "nominal",
                         "scale": {"domain": ["Agriculture and Livestock Farming", "Air Quality", "Conflicts", "Freshwater Ecosystem: Habitats, Plants and Wildlife", "Human Health and Public Safety", "Public Water Supply", "Terrestrial Ecosystem: Habitats, Plants and Wildlife", "Wildfires", "NA"],
                                   "range": ["#F8766D", "#CD9600", "#7CAE00", "#00BE67", "#00BFC4", "#00A9FF", "#C77CFF", "#FF61CC", "#7F7F7F"]},
                         "legend": {"title": "Impact Category", "orient": "none", "legendX": 56, "legendY": 957, "columns": 2, "titleOrient": "left", "titleAnchor": "middle", "titleBaseline": "middle", "titlePadding": 11,
                                    "symbolType": "square", "symbolSize": 1521, "symbolStrokeColor": "#f2f2f2", "symbolStrokeWidth": 2,
                                    "labelFontSize": 19, "titleFontSize": 19, "titleFontWeight": "normal", "labelColor": "#000000", "titleColor": "#000000",
                                    "labelOffset": 10, "rowPadding": 0, "clipHeight": 41.3, "columnPadding": 8, "labelLimit": 0, "padding": 0}},
               "stroke": {"condition": {"test": "datum.name === 'NA'", "value": "#7f7f7f"}, "value": "transparent"}
             }}
          ]
        },
        {
          "spacing": 0, "bounds": "flush",
          "resolve": {"scale": {"x": "independent", "y": "independent", "color": "shared"}},
          "vconcat": [
            {"width": 518, "height": 44, "view": {"fill": "#d9d9d9", "stroke": null},
             "data": {"values": [{"t": "S"}]},
             "mark": {"type": "text", "fontSize": 23, "color": "#1a1a1a", "font": "Liberation Sans"},
             "encoding": {"text": {"field": "t", "type": "nominal"}}},
            {"width": 518, "height": 128, "view": {"fill": "#ebebeb", "stroke": null},
             "data": {"name": "d"},
             "transform": [{"filter": "datum.r === 'S'"}, {"lookup": "c", "from": {"data": {"name": "lv"}, "key": "c", "fields": ["name", "k"]}},
                           {"stack": "v", "groupby": ["s"], "sort": [{"field": "k", "order": "descending"}], "as": ["v0", "v1"]}],
             "mark": {"type": "bar", "strokeWidth": 1.2},
             "encoding": {
               "x": {"field": "s", "type": "quantitative", "scale": {"domain": [1978.27, 2015.69], "nice": false, "zero": false},
                     "axis": {"title": null, "values": [1980, 1985, 1990, 1995, 2000, 2005, 2010, 2015], "labelExpr": "datum.value % 10 === 0 ? '' + datum.value : ''",
                              "gridWidth": {"condition": {"test": "datum.value % 10 === 0", "value": 2.2}, "value": 1.1},
                              "tickOpacity": {"condition": {"test": "datum.value % 10 === 0", "value": 1}, "value": 0}}},
               "x2": {"field": "e"},
               "y": {"field": "v1", "type": "quantitative", "scale": {"domain": [-0.35, 7.35], "nice": false, "zero": false},
                     "axis": {"title": null, "values": [0, 1, 2, 3, 4, 5, 6, 7], "labelExpr": "datum.value % 2 === 0 ? '' + datum.value : ''",
                              "gridWidth": {"condition": {"test": "datum.value % 2 === 0", "value": 2.2}, "value": 1.1},
                              "tickOpacity": {"condition": {"test": "datum.value % 2 === 0", "value": 1}, "value": 0}}},
               "y2": {"field": "v0"},
               "color": {"field": "name", "type": "nominal",
                         "scale": {"domain": ["Agriculture and Livestock Farming", "Air Quality", "Conflicts", "Freshwater Ecosystem: Habitats, Plants and Wildlife", "Human Health and Public Safety", "Public Water Supply", "Terrestrial Ecosystem: Habitats, Plants and Wildlife", "Wildfires", "NA"],
                                   "range": ["#F8766D", "#CD9600", "#7CAE00", "#00BE67", "#00BFC4", "#00A9FF", "#C77CFF", "#FF61CC", "#7F7F7F"]},
                         "legend": {"title": "Impact Category", "orient": "none", "legendX": 56, "legendY": 957, "columns": 2, "titleOrient": "left", "titleAnchor": "middle", "titleBaseline": "middle", "titlePadding": 11,
                                    "symbolType": "square", "symbolSize": 1521, "symbolStrokeColor": "#f2f2f2", "symbolStrokeWidth": 2,
                                    "labelFontSize": 19, "titleFontSize": 19, "titleFontWeight": "normal", "labelColor": "#000000", "titleColor": "#000000",
                                    "labelOffset": 10, "rowPadding": 0, "clipHeight": 41.3, "columnPadding": 8, "labelLimit": 0, "padding": 0}},
               "stroke": {"condition": {"test": "datum.name === 'NA'", "value": "#7f7f7f"}, "value": "transparent"}
             }}
          ]
        }
      ]
    }
  ],
  "spacing": 9,
  "resolve": {"scale": {"x": "independent", "y": "independent", "color": "shared"}},
  "config": {
    "font": "Liberation Sans",
    "view": {"stroke": null},
    "axis": {"domain": false, "tickColor": "#333333", "tickWidth": 2, "tickSize": 6, "labelColor": "#4d4d4d", "labelFontSize": 27.5, "labelPadding": 4, "gridColor": "#ffffff", "labelFlush": false, "labelOverlap": false, "labelFont": "Liberation Sans"},
    "legend": {"labelFont": "Liberation Sans", "titleFont": "Liberation Sans"}
  }
}
